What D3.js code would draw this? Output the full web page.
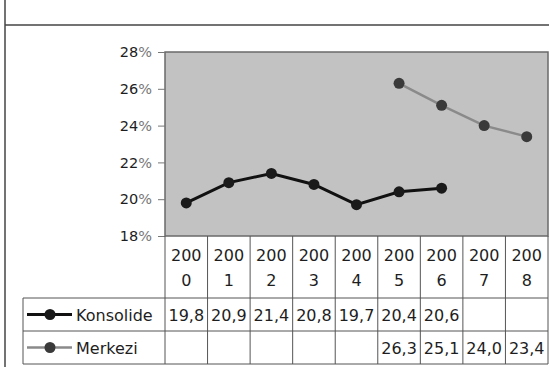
<!DOCTYPE html>
<html>
<head>
	<meta charset="utf-8">
	<title>Konsolide / Merkezi</title>
	<script src="https://d3js.org/d3.v7.min.js"></script>
	<style>
		body { margin: 0; background: #fff; }
		text { font-family: 'DejaVu Sans', sans-serif; fill: #1e1e1e; }
	</style>
</head>
<body>
	<div class="chart"></div>

	<script type="text/javascript">
		var years = ['2000', '2001', '2002', '2003', '2004', '2005', '2006', '2007', '2008']
		var konsolide = [19.8, 20.9, 21.4, 20.8, 19.7, 20.4, 20.6, null, null]
		var merkezi = [null, null, null, null, null, 26.3, 25.1, 24.0, 23.4]
		var yTicks = [18, 20, 22, 24, 26, 28]

		var series = [
			{ name: 'Konsolide', values: konsolide, line: '#111', dot: '#1a1a1a', lw: 3 },
			{ name: 'Merkezi', values: merkezi, line: '#8a8a8a', dot: '#3a3a3a', lw: 2.5 }
		]

		var width = 549
		var height = 367
		var plotL = 165, plotR = 548, plotT = 52, plotB = 236
		var rowH = [62, 33, 33]
		var legendL = 23

		var svg = d3.select('.chart')
			.append('svg')
			.attr('width', width)
			.attr('height', height)

		// 外框
		svg.append('line').attr('x1', 5).attr('x2', 5).attr('y1', 0).attr('y2', height)
			.attr('stroke', '#444').attr('stroke-width', 1.5)
		svg.append('line').attr('x1', 5).attr('x2', width).attr('y1', 25).attr('y2', 25)
			.attr('stroke', '#444').attr('stroke-width', 1.5)

		var xScale = d3.scaleBand().range([plotL, plotR]).domain(years)
		var yScale = d3.scaleLinear().range([plotB, plotT]).domain([18, 28])

		// 绘图区
		svg.append('rect')
			.attr('x', plotL).attr('y', plotT)
			.attr('width', plotR - plotL).attr('height', plotB - plotT)
			.attr('fill', '#c2c2c2')
			.attr('stroke', '#6a6a6a').attr('stroke-width', 1.5)

		// y 轴
		var yAxis = d3.axisLeft(yScale).tickValues(yTicks).tickSize(7).tickPadding(6).tickFormat(d => d)
		var gy = svg.append('g').attr('transform', `translate(${plotL}, 0)`).call(yAxis)
		gy.select('.domain').remove()
		gy.selectAll('line').attr('stroke', '#777')
		gy.selectAll('text').style('font-size', '14.5px').attr('fill', '#1e1e1e')
			.attr('font-family', "'DejaVu Sans', sans-serif")
			.append('tspan').attr('fill', '#777').text('%')

		// 折线
		var line = d3.line()
			.defined(d => d[1] != null)
			.x(d => xScale(d[0]) + xScale.bandwidth() / 2)
			.y(d => yScale(d[1]))

		series.forEach(s => {
			var pts = years.map((y, i) => [y, s.values[i]])
			svg.append('path')
				.attr('d', line(pts))
				.attr('fill', 'none')
				.attr('stroke', s.line)
				.attr('stroke-width', s.lw)
			svg.append('g').selectAll('circle')
				.data(pts.filter(d => d[1] != null))
				.enter()
				.append('circle')
				.attr('cx', d => xScale(d[0]) + xScale.bandwidth() / 2)
				.attr('cy', d => yScale(d[1]))
				.attr('r', 5.5)
				.attr('fill', s.dot)
		})

		// 数据表
		var grid = svg.append('g').attr('stroke', '#555').attr('stroke-width', 1)
		var y0 = plotB, y1 = y0 + rowH[0], y2 = y1 + rowH[1], y3 = y2 + rowH[2]
		years.forEach(y => {
			grid.append('line').attr('x1', xScale(y)).attr('x2', xScale(y)).attr('y1', y0).attr('y2', y3)
		})
		grid.append('line').attr('x1', plotR).attr('x2', plotR).attr('y1', y0).attr('y2', y3)
		grid.append('line').attr('x1', legendL).attr('x2', legendL).attr('y1', y1).attr('y2', y3);
		[y1, y2, y3].forEach(yy => {
			grid.append('line').attr('x1', legendL).attr('x2', plotR).attr('y1', yy).attr('y2', yy)
		})

		// 表头
		var head = svg.append('g').selectAll('text').data(years).enter()
		head.append('text')
			.attr('x', d => xScale(d) + xScale.bandwidth() / 2)
			.attr('y', y0 + 25)
			.attr('text-anchor', 'middle')
			.style('font-size', '16px')
			.text(d => d.slice(0, 3))
		head.append('text')
			.attr('x', d => xScale(d) + xScale.bandwidth() / 2)
			.attr('y', y0 + 50)
			.attr('text-anchor', 'middle')
			.style('font-size', '16px')
			.text(d => d.slice(3))

		// 表行
		series.forEach((s, k) => {
			var top = k === 0 ? y1 : y2
			var cy = top + rowH[1] / 2
			svg.append('line').attr('x1', 27).attr('x2', 72).attr('y1', cy).attr('y2', cy)
				.attr('stroke', s.line).attr('stroke-width', s.lw)
			svg.append('circle').attr('cx', 50).attr('cy', cy).attr('r', 5.5).attr('fill', s.dot)
			svg.append('text').attr('x', 76).attr('y', cy + 6)
				.style('font-size', '16px').text(s.name)
			svg.append('g').selectAll('text')
				.data(years.map((y, i) => [y, s.values[i]]).filter(d => d[1] != null))
				.enter()
				.append('text')
				.attr('x', d => xScale(d[0]) + xScale.bandwidth() / 2)
				.attr('y', cy + 6)
				.attr('text-anchor', 'middle')
				.style('font-size', '16px')
				.text(d => d3.format('.1f')(d[1]).replace('.', ','))
		})
	</script>
</body>
</html>
